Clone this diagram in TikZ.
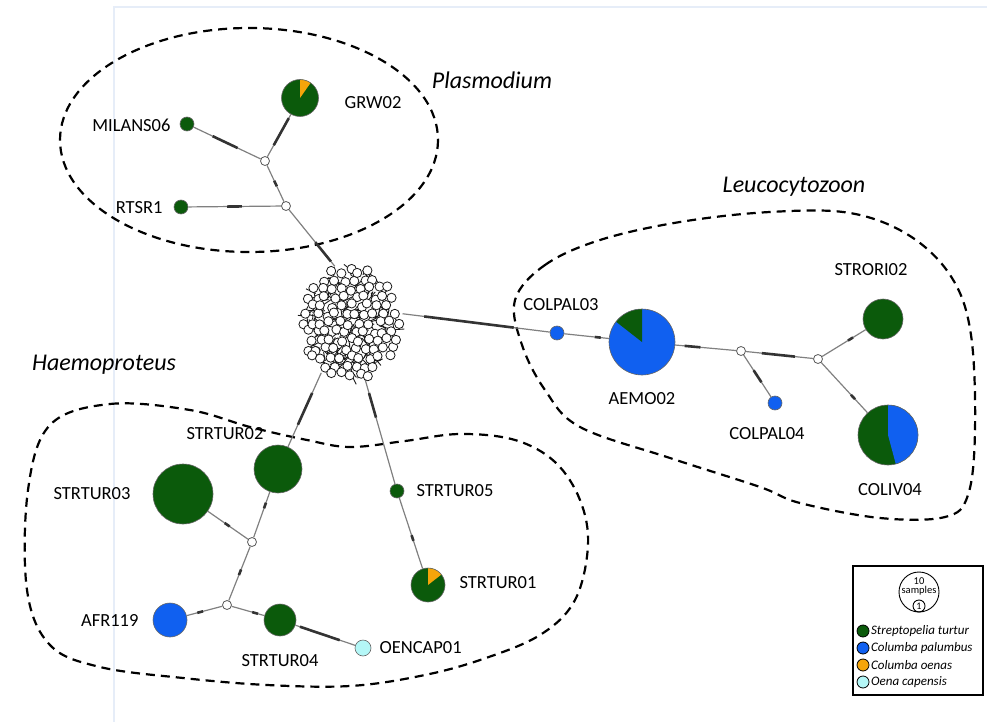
\documentclass[tikz,border=0pt]{standalone}
\usepackage{fontspec}
\setmainfont{Carlito}
\usepackage{tikz}
\usetikzlibrary{calc,shapes.geometric}
\definecolor{turtur}{HTML}{0B5A0B}
\definecolor{palumbus}{HTML}{1060F0}
\definecolor{oenas}{HTML}{F5A50A}
\definecolor{capensis}{HTML}{B4F7F7}
\definecolor{frameblue}{HTML}{E6EDF8}
\tikzset{
  hap/.style={circle,inner sep=0pt,draw=black!60,line width=0.6pt},
  mv/.style={circle,inner sep=0pt,minimum size=9pt,draw=black!65,fill=white,line width=0.8pt},
  link/.style={draw=black!50,line width=1.2pt},
  mutline/.style={draw=black!80,line width=2.6pt},
  tag/.style={font=\fontsize{18.5}{20}\selectfont},
  genus/.style={font=\fontsize{24}{28}\selectfont\itshape},
  hull/.style={line width=2.2pt,dash pattern=on 9pt off 6pt},
  wedge/.style n args={3}{path picture={\fill[#3] (path picture bounding box.center)
      -- ++(#1:40pt) arc[start angle=#1,end angle=#2,radius=40pt] -- cycle;}},
}
% dark stretch of mutations along an edge, and a single short mark
\newcommand{\mutseg}[4]{\draw[mutline] ($(#1)!#3!(#2)$) -- ($(#1)!#4!(#2)$);}
\newcommand{\mutick}[3]{\draw[mutline] ($(#1)!#3!(#2)!-3pt!(#2)$) -- ($(#1)!#3!(#2)!3pt!(#2)$);}

\begin{document}
\begin{tikzpicture}[x=1pt,y=-1pt]
\useasboundingbox (0,0) rectangle (987,722);
\draw[frameblue,line width=1.2pt] (114,722) -- (114,7) -- (987,7);

% groups
\draw[hull] (249,140) ellipse [x radius=189,y radius=112];
\draw[hull] plot[smooth cycle,tension=0.6] coordinates {(515,300) (545,265) (600,240) (680,222)
  (770,212) (850,213) (910,236) (952,278) (971,335) (975,430) (968,495) (945,517) (880,518)
  (800,503) (760,487) (670,458) (580,427) (545,390) (522,345)};
\draw[hull] plot[smooth cycle,tension=0.6] coordinates {(50,425) (110,404) (190,410) (250,427)
  (307,440) (350,447) (405,441) (460,434) (515,440) (555,462) (580,500) (588,545) (575,600)
  (540,635) (480,660) (420,676) (350,686) (267,685) (183,678) (100,667) (50,645) (27,590)
  (28,490)};
\node[genus] (gPlas) at (492,80) {Plasmodium};
\node[genus] (gLeuco) at (794,187) {Leucocytozoon};
\node[genus] (gHaem) at (104,365) {Haemoproteus};

% haplotypes
\node[ellipse,minimum width=106pt,minimum height=118pt,inner sep=0pt] (core) at (350,323) {};
\node[hap,fill=turtur,minimum size=37pt,wedge={55}{90}{oenas}] (GRW02) at (300,98) {};
\node[hap,fill=turtur,minimum size=14pt] (MILANS06) at (187,124) {};
\node[hap,fill=turtur,minimum size=14pt] (RTSR1) at (181,207) {};
\node[mv] (mv1) at (265,161) {};
\node[mv] (mv2) at (286,206) {};
\node[hap,fill=palumbus,minimum size=14pt] (COLPAL03) at (557,333) {};
\node[hap,fill=palumbus,minimum size=66pt,wedge={90}{142}{turtur}] (AEMO02) at (642,342) {};
\node[mv] (mv5) at (741,351) {};
\node[hap,fill=palumbus,minimum size=14pt] (COLPAL04) at (775,403) {};
\node[mv] (mv6) at (818,359) {};
\node[hap,fill=turtur,minimum size=40pt] (STRORI02) at (883,319) {};
\node[hap,fill=turtur,minimum size=60pt,wedge={-75}{90}{palumbus}] (COLIV04) at (888,435) {};
\node[hap,fill=turtur,minimum size=48pt] (STRTUR02) at (278,469) {};
\node[hap,fill=turtur,minimum size=60pt] (STRTUR03) at (183,494) {};
\node[mv] (mv3) at (252,542) {};
\node[mv] (mv4) at (227,605) {};
\node[hap,fill=palumbus,minimum size=34pt] (AFR119) at (170,620) {};
\node[hap,fill=turtur,minimum size=32pt] (STRTUR04) at (280,620) {};
\node[hap,fill=capensis,minimum size=16pt] (OENCAP01) at (363,648) {};
\node[hap,fill=turtur,minimum size=14pt] (STRTUR05) at (397,491) {};
\node[hap,fill=turtur,minimum size=34pt,wedge={38}{90}{oenas}] (STRTUR01) at (428,585) {};

% edges
\draw[link] (mv1) -- (GRW02) (mv1) -- (MILANS06) (mv1) -- (mv2) (mv2) -- (RTSR1)
  (mv2) -- (core.105) (core.10) -- (COLPAL03) (COLPAL03) -- (AEMO02) (AEMO02) -- (mv5)
  (mv5) -- (COLPAL04) (mv5) -- (mv6) (mv6) -- (STRORI02) (mv6) -- (COLIV04)
  (core.240) -- (STRTUR02) (core.285) -- (STRTUR05) (STRTUR05) -- (STRTUR01)
  (STRTUR02) -- (mv3) (mv3) -- (STRTUR03) (mv3) -- (mv4) (mv4) -- (AFR119)
  (mv4) -- (STRTUR04) (STRTUR04) -- (OENCAP01);
\mutseg{mv1}{GRW02}{0.25}{0.68}
\mutseg{MILANS06}{mv1}{0.33}{0.65}
\mutseg{RTSR1}{mv2}{0.44}{0.58}
\mutseg{mv2}{core.105}{0.6}{0.92}
\mutick{mv1}{mv2}{0.5}
\mutseg{core.10}{COLPAL03}{0.14}{0.72}
\mutick{COLPAL03}{AEMO02}{0.48}
\mutseg{AEMO02}{mv5}{0.43}{0.59}
\mutseg{mv5}{COLPAL04}{0.37}{0.6}
\mutseg{mv5}{mv6}{0.27}{0.7}
\mutick{mv6}{STRORI02}{0.5}
\mutick{mv6}{COLIV04}{0.5}
\mutseg{core.240}{STRTUR02}{0.21}{0.54}
\mutseg{core.285}{STRTUR05}{0.12}{0.34}
\mutick{STRTUR05}{STRTUR01}{0.5}
\mutick{STRTUR02}{mv3}{0.5}
\mutick{mv3}{STRTUR03}{0.36}
\mutick{mv3}{mv4}{0.48}
\mutick{mv4}{AFR119}{0.47}
\mutick{mv4}{STRTUR04}{0.53}
\mutseg{STRTUR04}{OENCAP01}{0.24}{0.72}

% tangled core of unsampled haplotypes
\pgfmathsetseed{42}
\foreach \k in {1,...,260}{
  \pgfmathsetmacro{\ra}{sqrt(rnd)}
  \pgfmathsetmacro{\aa}{360*rnd}
  \pgfmathsetmacro{\px}{46*\ra*cos(\aa)}
  \pgfmathsetmacro{\py}{52*\ra*sin(\aa)}
  \draw[black!90,line width=0.9pt] ($(core)+(\px,\py)$) -- ++(rand*12,rand*12);
}
\foreach \i in {-6,...,6}{
  \foreach \j in {-7,...,7}{
    \pgfmathsetmacro{\px}{\i*9.6+mod(abs(\j),2)*4.8+rand*2.5}
    \pgfmathsetmacro{\py}{\j*8.6+rand*2.5}
    \pgfmathtruncatemacro{\inside}{((\px/50)^2+(\py/57)^2<1)}
    \ifnum\inside=1
      \filldraw[fill=white,draw=black!90,line width=0.8pt] ($(core)+(\px,\py)$) circle (4.6pt);
    \fi
  }
}

% labels
\node[tag] (tGRW02) at (373,103) {GRW02};
\node[tag,anchor=east] (tMILANS06) at (174,125) {MILANS06};
\node[tag,anchor=east] (tRTSR1) at (166,208) {RTSR1};
\node[tag] (tCOLPAL03) at (561,305) {COLPAL03};
\node[tag] (tAEMO02) at (642,399) {AEMO02};
\node[tag] (tCOLPAL04) at (767,434) {COLPAL04};
\node[tag] (tSTRORI02) at (871,270) {STRORI02};
\node[tag] (tCOLIV04) at (890,490) {COLIV04};
\node[tag] (tSTRTUR02) at (225,434) {STRTUR02};
\node[tag] (tSTRTUR03) at (92,494) {STRTUR03};
\node[tag,anchor=west] (tSTRTUR05) at (413,491) {STRTUR05};
\node[tag,anchor=west] (tSTRTUR01) at (456,583) {STRTUR01};
\node[tag,anchor=east] (tAFR119) at (142,620) {AFR119};
\node[tag] (tSTRTUR04) at (280,661) {STRTUR04};
\node[tag,anchor=west] (tOENCAP01) at (376,648) {OENCAP01};

% legend
\node[draw,line width=1.2pt,minimum width=130pt,minimum height=129pt,inner sep=0pt] (key) at (918,630.5) {};
\node[circle,draw,line width=0.9pt,minimum size=40pt,inner sep=0pt] (keyten) at (919,592) {};
\node[circle,draw,line width=0.9pt,minimum size=12pt,inner sep=0pt,font=\fontsize{10}{10}\selectfont] (keyone) at (919,606) {1};
\node[font=\fontsize{10.5}{11}\selectfont,inner sep=0pt] (keyn) at (919,581) {10};
\node[font=\fontsize{10.5}{11}\selectfont,inner sep=0pt] (keys) at (919,591) {samples};
\foreach \c/\s [count=\n] in {turtur/Streptopelia turtur,palumbus/Columba palumbus,
    oenas/Columba oenas,capensis/Oena capensis}{
  \node[circle,inner sep=0pt,draw=black,line width=0.8pt,fill=\c,minimum size=12pt] (sw\n) at (863,{614+17*\n}) {};
  \node[anchor=west,inner sep=1.5pt,font=\fontsize{13}{14}\selectfont\itshape] (sl\n) at (sw\n.east) {\s};
}
\end{tikzpicture}
\end{document}
